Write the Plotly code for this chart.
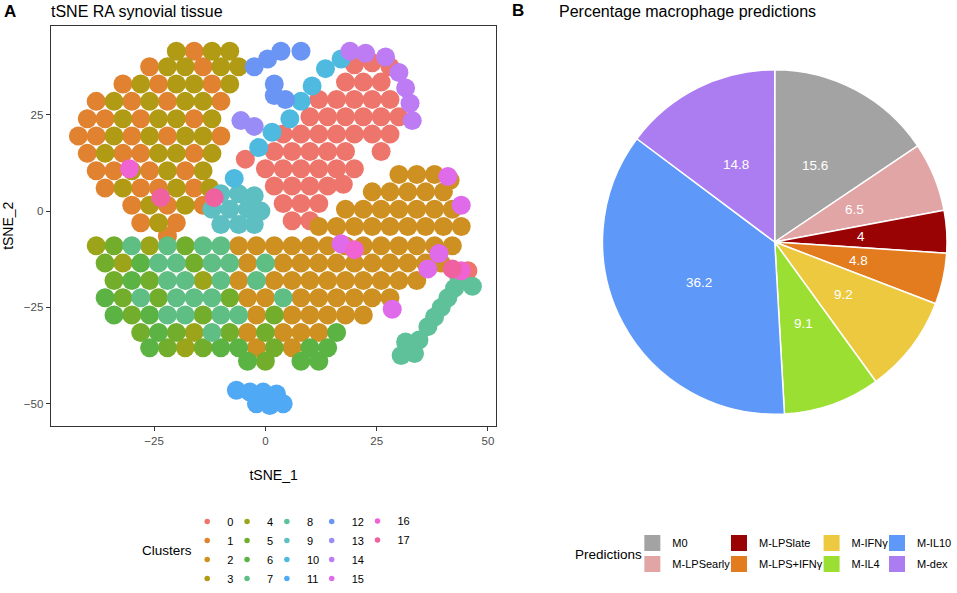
"""tSNE of RA synovial tissue macrophages and pie of predicted macrophage states."""
import math

import plotly.graph_objects as go

W, H = 957, 593
FONT = 'Liberation Sans, Arial, sans-serif'

# cells per cluster, (tSNE_1, tSNE_2)
cluster_0 = [
    (20, 38), (24, 38.5), (28, 37.5),
    (18, 33.5), (22, 33.5), (26, 33.5),
    (12, 29), (16, 29), (20, 29), (24, 29), (28, 29),
    (10, 24.5), (14, 24.5), (18, 24.5), (22, 24.5), (26, 24.5), (30, 24.5),
    (4, 20), (8, 20), (12, 20), (16, 20), (20, 20), (24, 20), (28, 20),
    (2, 15.5), (6, 15.5), (10, 15.5), (14, 15.5), (18, 15.5), (26, 15.5),
    (0, 11), (4, 11), (8, 11), (12, 11), (16, 11), (20, 11),
    (2, 6.5), (6, 6.5), (10, 6.5), (14, 6.5), (17.5, 7),
    (4, 2), (8, 2), (12, 2),
    (6, -2.5), (10, -2.5),
    (-4.5, 13.5), (45.5, -15.5),
]
cluster_1 = [
    (-16, 41.5),
    (-26, 37.5), (-14, 37.5),
    (-32, 33), (-24, 33), (-12, 33),
    (-38, 28.5), (-30, 28.5), (-22, 28.5), (-10, 28.5),
    (-40, 24), (-36, 24), (-28, 24), (-16, 24),
    (-42, 19.5), (-38, 19.5), (-30, 19.5), (-22, 19.5), (-10, 19.5),
    (-40, 15), (-32, 15), (-28, 15), (-16, 15),
    (-38, 10.5), (-34, 10.5), (-26, 10.5), (-18, 10.5),
    (-36, 6), (-28, 6), (-24, 6), (-16, 6),
    (-30, 1.5), (-22, 1.5), (-14, 1.5),
    (-28, -3), (-20, -3),
    (-22, -6.5),
]
cluster_2 = [
    (30, 9.5), (34, 9.5), (38, 9.5), (41.5, 8),
    (24, 5), (28, 5), (32, 5), (36, 5), (40, 5),
    (18, 0.5), (22, 0.5), (26, 0.5), (30, 0.5), (34, 0.5), (38, 0.5), (42, 0.5),
    (12, -4), (16, -4), (20, -4), (24, -4), (28, -4), (32, -4), (36, -4), (40, -4), (44, -4),
    (-6, -9), (-2, -9), (2, -9), (6, -9), (10, -9), (14, -9), (18, -9), (22, -9),
    (26, -9), (30, -9), (34, -9), (38, -9), (42, -9),
    (-4, -13.5), (4, -13.5), (8, -13.5), (12, -13.5), (16, -13.5), (20, -13.5),
    (24, -13.5), (28, -13.5), (32, -13.5), (36, -13.5), (39.5, -13.5),
    (-6, -18), (2, -18), (6, -18), (10, -18), (14, -18), (18, -18), (22, -18),
    (26, -18), (30, -18), (34, -18),
    (-4, -22.5), (0, -22.5), (8, -22.5), (12, -22.5), (16, -22.5), (20, -22.5),
    (24, -22.5), (28, -22.5),
    (-2, -27), (6, -27), (10, -27), (14, -27), (18, -27), (22, -27),
    (-4, -31.5), (4, -31.5), (8, -31.5), (12, -31.5),
    (-2, -35.5), (6, -35.5),
]
cluster_3 = [
    (-20, 41.5), (-12, 41.5), (-8, 41.5),
    (-22, 37.5), (-18, 37.5), (-10, 37.5), (-6, 37.5),
    (-28, 33), (-20, 33), (-16, 33), (-8, 33),
    (-34, 28.5), (-26, 28.5), (-18, 28.5), (-14, 28.5),
    (-32, 24), (-24, 24), (-20, 24), (-12, 24),
    (-34, 19.5), (-26, 19.5), (-18, 19.5), (-14, 19.5),
    (-36, 15), (-24, 15), (-20, 15), (-12, 15),
    (-30, 10.5), (-22, 10.5), (-14, 10.5),
    (-32, 6), (-20, 6), (-12.5, 6),
    (-26, 1.5), (-18, 1.5),
    (-24, -3),
]
cluster_4 = [(-38, -9), (-26, -9), (-32, -13.5), (-14, -18), (-16, -31.5), (-18, -35.5)]
cluster_5 = [
    (-34, -9), (-18, -9), (-36, -13.5), (-16, -13.5), (-34, -18), (-26, -18),
    (-32, -22.5), (-24, -22.5), (-8, -22.5), (-30, -27), (-14, -27), (2, -27),
    (-28, -31.5), (-20, -31.5), (-8, -31.5), (0, -31.5),
    (-22, -35.5), (-14, -35.5), (2, -35.5), (0, -39),
]
cluster_6 = [
    (-28, -13.5), (-30, -18), (-36, -22.5), (-34, -27), (-26, -27), (-24, -31.5),
    (16, -31.5), (-26, -35.5), (-10, -35.5), (-6, -35.5), (10, -35.5), (14, -35.5),
    (-4, -39), (8, -39), (12, -39),
]
cluster_7 = [
    (-30, -9), (-22, -9), (-14, -9), (-10, -9),
    (-24, -13.5), (-20, -13.5), (-12, -13.5), (-8, -13.5), (0, -13.5),
    (-22, -18), (-18, -18), (-10, -18), (-2, -18),
    (-28, -22.5), (-20, -22.5), (-16, -22.5), (-12, -22.5), (4, -22.5),
    (-22, -27), (-18, -27), (-10, -27), (-6, -27),
    (-12, -31.5),
]
cluster_8 = [
    (30.5, -37.5), (33.5, -37), (31.5, -34), (34.5, -33.5), (36.5, -30), (38, -27.5),
    (39.5, -25), (41, -22.5), (42.5, -20), (43.5, -17.5), (46.5, -19.5),
]
cluster_9 = [
    (-10, 4.5), (-6, 4.5), (-2.5, 4), (-12, 0.5), (-8, 0.5), (-4, 0.5), (-1, 0),
    (-10, -3.5), (-6, -3.5), (-2.5, -3.5),
]
cluster_10 = [(13.5, 37), (17, 39.5), (10.5, 32.5), (8, 28.5), (5.5, 24), (1.5, 20.5),
              (-1.5, 16.5), (-7, 8.5)]
cluster_11 = [(-6.5, -46.5), (-3.5, -47), (-0.5, -47), (2.5, -47.5), (-2, -50), (1, -50.5),
              (4, -50)]
cluster_12 = [(-2.5, 37.5), (0.5, 39.5), (3.5, 41.5), (8, 41.5), (2, 33), (2, 30), (4.5, 29)]
cluster_13 = [(-5.5, 23.5), (-2.5, 22)]
cluster_14 = [(19, 41.5), (22.5, 41), (27, 40), (30, 36), (31.5, 32), (32.5, 28), (33, 23.5)]
cluster_15 = [(44, 1.5), (41, 9), (39, -11), (36.5, -15), (28.5, -25.5), (17, -8.5)]
cluster_16 = [(20, -10), (-30.5, 11), (44, -15.5)]
cluster_17 = [(-11.5, 3.5), (-23.5, 3.5), (42, -15)]

clusters = [
    cluster_0, cluster_1, cluster_2, cluster_3, cluster_4, cluster_5, cluster_6,
    cluster_7, cluster_8, cluster_9, cluster_10, cluster_11, cluster_12, cluster_13,
    cluster_14, cluster_15, cluster_16, cluster_17,
]

CLUSTER_COLORS = [
    '#EE756B', '#E0822F', '#CE9020', '#B29B14', '#9CA51A', '#72AE2C',
    '#5BB344', '#5EBE84', '#5EC19A', '#5DBFC1', '#4FBADF', '#4FA9F5',
    '#6A95F5', '#9A8CF7', '#BD7CF4', '#E06BEA', '#F063D2', '#F0619F',
]

# macrophage state predictions (%)
predictions = ['M0', 'M-LPSearly', 'M-LPSlate', 'M-LPS+IFNγ', 'M-IFNγ', 'M-IL4', 'M-IL10', 'M-dex']
percentages = [15.6, 6.5, 4, 4.8, 9.2, 9.1, 36.2, 14.8]

PRED_COLORS = ['#A3A3A3', '#E2A5A5', '#990303', '#E27C1E', '#EDC93F', '#9BDF33', '#5E98F9', '#AC7CF1']

# pie placement (pixels)
PIE_CX, PIE_CY, PIE_R = 778, 242, 173


def legend_box(x_px, y_px=None, gap=2):
    box = dict(
        x=x_px / W, xanchor='left',
        orientation='v', traceorder='grouped', tracegroupgap=gap,
        font=dict(family=FONT, size=11, color='#000000'),
        bgcolor='rgba(0,0,0,0)', itemclick=False, itemdoubleclick=False,
    )
    if y_px is None:
        # sit on the bottom edge so the box never runs past the page
        box.update(y=0, yanchor='bottom')
    else:
        box.update(y=1 - y_px / H, yanchor='top')
    return box


fig = go.Figure()

for k, cells in enumerate(clusters):
    fig.add_trace(go.Scatter(
        x=[c[0] for c in cells],
        y=[c[1] for c in cells],
        mode='markers',
        marker=dict(color=CLUSTER_COLORS[k], size=19, line=dict(width=0)),
        legendgroup=str(k),
        showlegend=False,
        hoverinfo='skip',
    ))

# cluster legend: 5 columns of 4
cluster_cols_px = [188, 228, 268, 313, 359]
for k in range(len(clusters)):
    col = k // 4
    fig.add_trace(go.Scatter(
        x=[None], y=[None], mode='markers',
        marker=dict(color=CLUSTER_COLORS[k], size=5.5),
        name=str(k), legendgroup=str(k),
        legend='legend' if col == 0 else f'legend{col + 1}',
    ))

fig.add_trace(go.Pie(
    labels=predictions,
    values=percentages,
    sort=False,
    direction='clockwise',
    rotation=0,
    marker=dict(colors=PRED_COLORS, line=dict(color='white', width=1.5)),
    textinfo='none',
    domain=dict(x=[(PIE_CX - PIE_R) / W, (PIE_CX + PIE_R) / W],
                y=[(H - PIE_CY - PIE_R) / H, (H - PIE_CY + PIE_R) / H]),
    showlegend=False,
    hoverinfo='label+value',
))

# slice labels at half radius, like geom_text on a polar bar
pie_labels = []
total = sum(percentages)
cum = 0
for v in percentages:
    theta = 2 * math.pi * (cum + v / 2) / total
    cum += v
    lx = PIE_CX + 0.5 * PIE_R * math.sin(theta)
    ly = PIE_CY - 0.5 * PIE_R * math.cos(theta)
    pie_labels.append(dict(
        text=f'{v:g}', x=lx / W, y=1 - ly / H, xanchor='center', yanchor='middle',
        font=dict(size=13.5, color='white'),
    ))

# predictions legend: 4 columns of 2
pred_cols_px = [635, 722, 815, 881]
for i, name in enumerate(predictions):
    col = i // 2
    fig.add_trace(go.Scatter(
        x=[None], y=[None], mode='markers',
        marker=dict(color=PRED_COLORS[i], size=16, symbol='square'),
        name=name, legendgroup=name,
        legend=f'legend{col + 6}',
    ))

legends = {}
for col, x_px in enumerate(cluster_cols_px):
    key = 'legend' if col == 0 else f'legend{col + 1}'
    legends[key] = legend_box(x_px, gap=0)
for col, x_px in enumerate(pred_cols_px):
    legends[f'legend{col + 6}'] = legend_box(x_px, 528.5)

# the fifth cluster column holds only two entries; keep it level with the others
legends['legend5'].update(y=1 - 506.5 / H, yanchor='top')

axis_common = dict(
    showgrid=False, zeroline=False, showline=True, mirror=True,
    linecolor='#333333', linewidth=1.3,
    ticks='outside', ticklen=4, tickwidth=1, tickcolor='#333333',
    tickfont=dict(family=FONT, size=11.5, color='#4D4D4D'),
)

fig.update_layout(
    width=W, height=H,
    margin=dict(l=0, r=0, t=0, b=0),
    paper_bgcolor='white', plot_bgcolor='white',
    font=dict(family=FONT, color='#000000'),
    hovermode=False,
    xaxis=dict(
        domain=[51 / W, 498.5 / W], range=[-48.2, 51.9],
        tickvals=[-25, 0, 25, 50],
        title=dict(text='tSNE_1', font=dict(size=14), standoff=24),
        **axis_common,
    ),
    yaxis=dict(
        domain=[(H - 426) / H, (H - 25.5) / H], range=[-55.8, 48.2],
        tickvals=[-50, -25, 0, 25],
        title=dict(text='tSNE_2', font=dict(size=14), standoff=6),
        **axis_common,
    ),
    annotations=[
        dict(text='<b>A</b>', x=2 / W, y=1 - 11 / H, xanchor='left', font=dict(size=17)),
        dict(text='tSNE RA synovial tissue', x=49 / W, y=1 - 11 / H, xanchor='left',
             font=dict(size=16)),
        dict(text='<b>B</b>', x=512 / W, y=1 - 10 / H, xanchor='left', font=dict(size=17)),
        dict(text='Percentage macrophage predictions', x=559 / W, y=1 - 11 / H,
             xanchor='left', font=dict(size=16)),
        dict(text='Clusters', x=141 / W, y=1 - 550 / H, xanchor='left', font=dict(size=13.5)),
        dict(text='Predictions', x=575 / W, y=1 - 554 / H, xanchor='left',
             font=dict(size=13.5)),
    ] + pie_labels,
    **legends,
)
fig.update_annotations(xref='paper', yref='paper', yanchor='middle', showarrow=False)

# the page body has a default 8px margin; drop it and clip the plot div to its own size
page_fix = (
    "document.documentElement.style.overflow = 'hidden';"
    "document.body.style.margin = '0';"
    "document.body.style.overflow = 'hidden';"
    "document.getElementById('{plot_id}').style.overflow = 'hidden';"
)
fig.write_html('out.html', config={'displayModeBar': False}, post_script=page_fix)
